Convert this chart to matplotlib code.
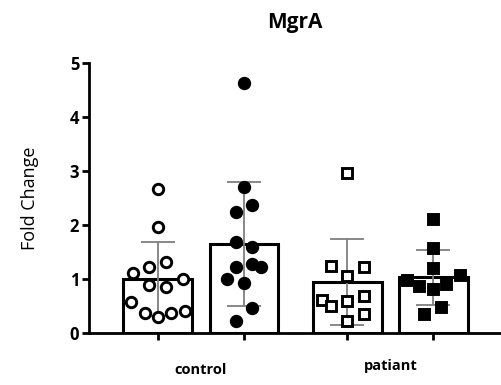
import matplotlib
matplotlib.use("Agg")
import matplotlib.pyplot as plt
import numpy as np

# values (fold change per sample)
ctrl_open = [2.66, 1.97, 1.12, 1.23, 1.31, 1.01, 0.89, 0.86, 0.58, 0.38, 0.30, 0.38, 0.41]
ctrl_fill = [4.64, 2.71, 2.37, 2.24, 1.68, 1.59, 1.23, 1.27, 1.22, 1.00, 0.92, 0.46, 0.22]
pat_open = [2.97, 1.24, 1.22, 1.06, 0.62, 0.50, 0.60, 0.69, 0.35, 0.23]
pat_fill = [2.11, 1.57, 1.20, 0.98, 1.07, 0.87, 0.81, 0.91, 0.49, 0.35]

# horizontal scatter of the points inside each bar
jit1 = [0, 0, -0.29, -0.10, 0.10, 0.29, -0.10, 0.10, -0.31, -0.155, 0, 0.155, 0.31]
jit2 = [0, 0, 0.097, -0.097, -0.097, 0.097, -0.097, 0.097, 0.194, -0.194, 0, 0.097, -0.097]
jit3 = [0, -0.194, 0.194, 0, -0.29, -0.194, 0, 0.194, 0.194, 0]
jit4 = [0, 0, 0, -0.31, 0.31, -0.166, 0, 0.148, 0.09, -0.105]

groups = [ctrl_open, ctrl_fill, pat_open, pat_fill]
jitters = [jit1, jit2, jit3, jit4]
markers = ["o", "o", "s", "s"]
filled = [False, True, False, True]
pos = [0, 1, 2.2, 3.2]
group_labels = ["control", "patiant"]

plt.rcParams["font.family"] = ["Open Sans", "DejaVu Sans"]

fig = plt.figure(figsize=(5.01, 3.85), dpi=100)
ax = fig.add_axes([0.1776, 0.135, 0.820, 0.701])

for x, vals, jit, m, f in zip(pos, groups, jitters, markers, filled):
    vals = np.array(vals)
    mean = vals.mean()
    sd = vals.std(ddof=1)
    ax.bar(x, mean, width=0.8, color="white", edgecolor="black", linewidth=2.2, zorder=1)
    ax.errorbar(x, mean, yerr=sd, color="#7f7f7f", elinewidth=1.3, capsize=12.5,
                capthick=1.3, zorder=2)
    ax.plot(x + np.array(jit), vals, linestyle="none", marker=m, markersize=7.5,
            markerfacecolor="black" if f else "white", markeredgecolor="black",
            markeredgewidth=2.1, zorder=3)

ax.set_xlim(-0.8, 3.97)
ax.set_ylim(0, 5)
ax.set_yticks([0, 1, 2, 3, 4, 5])
ax.set_xticks(pos)
ax.set_xticklabels([])
for s in ["top", "right"]:
    ax.spines[s].set_visible(False)
ax.spines["left"].set_linewidth(2)
ax.spines["bottom"].set_linewidth(2)
ax.tick_params(axis="both", width=2, length=5)
ax.tick_params(axis="y", labelsize=12, pad=2)
for t in ax.get_yticklabels():
    t.set_fontweight("bold")

ax.set_ylabel("Fold Change", fontsize=13, labelpad=22)
ax.set_title("MgrA", fontsize=15, fontweight="bold", pad=25, x=0.5)

ax.text((pos[0] + pos[1]) / 2, -0.68, group_labels[0], ha="center", va="center",
        fontsize=10.5, fontweight="bold")
ax.text((pos[2] + pos[3]) / 2, -0.62, group_labels[1], ha="center", va="center",
        fontsize=10.5, fontweight="bold")

fig.savefig("out.png", dpi=100)
